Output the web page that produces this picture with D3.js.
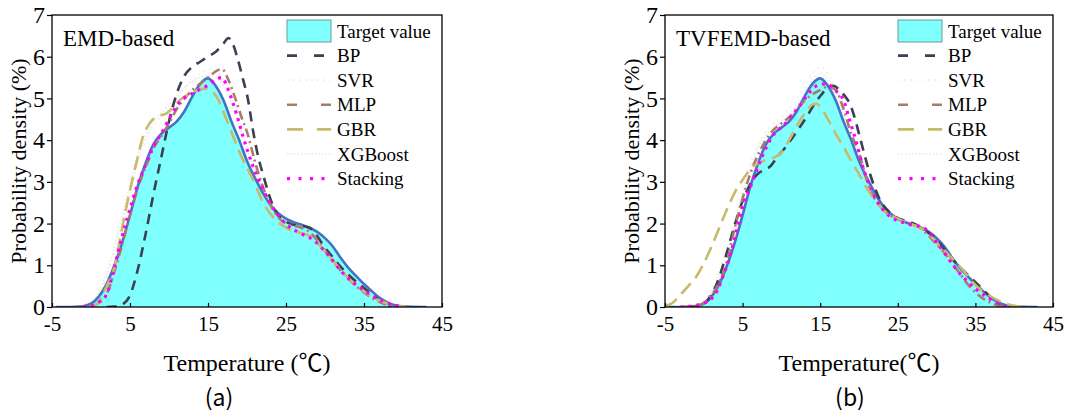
<!DOCTYPE html>
<html>
<head>
<meta charset="utf-8">
<script src="https://cdn.jsdelivr.net/npm/d3@7"></script>
<style>
  body { margin: 0; background: #fff; }
</style>
</head>
<body>
<svg id="chart" width="1067" height="416"></svg>
<script>
// ---- labels and ticks ----
const panelNames = ["EMD-based", "TVFEMD-based"];
const panelTags = ["(a)", "(b)"];
const xTitles = ["Temperature (℃)", "Temperature(℃)"];
const yTitle = "Probability density (%)";
const xTicks = [-5, 5, 15, 25, 35, 45];
const yTicks = [0, 1, 2, 3, 4, 5, 6, 7];
const seriesNames = ["Target value", "BP", "SVR", "MLP", "GBR", "XGBoost", "Stacking"];

// ---- kernel density of the measured temperature, [°C, %] ----
const target = [[-4.5,0],[-3,0],[-2,0.005],[-1,0.02],[0,0.08],[1,0.25],[2,0.55],[3,1.0],[4,1.55],[5,2.2],[6,2.9],[7,3.45],[8,3.9],[9,4.15],[10,4.3],[11,4.45],[12,4.7],[13,5.05],[14,5.35],[15,5.48],[16,5.3],[17,4.95],[18,4.45],[19,4.0],[20,3.5],[21,3.1],[22,2.75],[23,2.45],[24,2.25],[25,2.12],[26,2.03],[27,1.97],[28,1.9],[29,1.8],[30,1.65],[31,1.45],[32,1.18],[33,0.94],[34,0.74],[35,0.55],[36,0.38],[37,0.22],[38,0.11],[39,0.04],[40,0.015],[41,0.005],[43,0]];

// ---- EMD-based forecasts ----
const emdBP = [[2,0],[3,0.01],[4,0.06],[5,0.28],[6,0.9],[7,1.75],[8,2.7],[9,3.58],[10,4.45],[11,5.12],[12,5.55],[13,5.76],[14,5.88],[15,6.0],[16,6.12],[17,6.32],[17.6,6.45],[18.2,6.3],[18.8,5.95],[19.5,5.45],[20.1,5.0],[20.8,4.2],[21.5,3.55],[22.1,3.15],[22.8,2.7],[23.8,2.25],[25.5,2.0],[28,1.9],[30.2,1.37],[32.8,0.81],[35.3,0.41],[37.5,0.09],[38.3,0]];
const emdSVR = [[-3,0],[0,0.08],[1,0.3],[2,0.7],[3,1.3],[4,2.0],[5,2.75],[6,3.45],[7,4.0],[8,4.35],[9,4.55],[10,4.75],[11,5.0],[12,5.25],[13,5.45],[14,5.6],[15,5.7],[16,5.68],[17,5.45],[18,5.0],[19,4.4],[20,3.8],[21,3.25],[22,2.8],[23,2.45],[24,2.2],[25,2.05],[26,1.98],[27,1.92],[28,1.82],[29,1.65],[30,1.45],[31,1.22],[32,1.0],[33,0.78],[34,0.58],[35,0.4],[36,0.25],[37,0.14],[38,0.06],[39,0.02],[40,0]];
const emdMLP = [[-2,0],[0,0.02],[1,0.1],[2,0.3],[3,0.85],[4,1.5],[5,2.2],[6,2.85],[7,3.35],[8,3.8],[9,4.1],[10,4.4],[11,4.75],[12,5.0],[13,5.2],[14,5.35],[15,5.5],[16,5.65],[16.8,5.7],[17.6,5.45],[18.5,5.0],[19.3,4.55],[20,4.2],[21,3.5],[22,2.9],[23,2.45],[24,2.15],[25,2.0],[26,1.95],[27,1.9],[28,1.8],[29,1.6],[30,1.35],[31,1.1],[32,0.88],[33,0.68],[34,0.5],[35,0.35],[36,0.22],[37,0.12],[38,0.05],[39,0.02],[40,0]];
const emdGBR = [[0,0],[1,0.12],[1.6,0.33],[2,0.5],[3,0.95],[4,1.9],[5,2.8],[6,3.6],[6.6,4.05],[7.5,4.4],[8.4,4.56],[9.7,4.64],[11.4,4.96],[13.1,5.16],[14.8,5.24],[16.1,5.04],[17.4,4.48],[19.1,3.68],[20.8,3.04],[22.1,2.49],[24.2,2.0],[25.5,1.85],[28.1,1.69],[30.2,1.29],[32.8,0.73],[35.3,0.33],[37.9,0.09],[40.5,0]];
const emdXGB = [[-3,0],[0,0.1],[1,0.35],[2,0.8],[3,1.45],[4,2.2],[5,2.95],[6,3.6],[7,4.1],[8,4.45],[9,4.65],[10,4.85],[11,5.05],[12,5.25],[13,5.4],[14,5.5],[15,5.55],[16,5.5],[17,5.3],[18,4.9],[19,4.35],[20,3.8],[21,3.3],[22,2.85],[23,2.5],[24,2.25],[25,2.1],[26,2.0],[27,1.95],[28,1.85],[29,1.68],[30,1.48],[31,1.25],[32,1.02],[33,0.8],[34,0.6],[35,0.42],[36,0.27],[37,0.15],[38,0.07],[39,0.02],[40,0]];
const emdStacking = [[-1,0],[0,0.03],[1,0.12],[2,0.3],[3,0.95],[4,1.7],[5,2.35],[6,2.95],[7,3.4],[8,3.85],[9,4.15],[10,4.5],[11,4.82],[12,5.02],[13,5.12],[14,5.22],[15,5.32],[16,5.45],[16.8,5.5],[17.5,5.25],[18.7,4.6],[19.5,4.08],[20.8,3.36],[22.1,2.8],[23.8,2.25],[25.1,1.97],[26.8,1.77],[28.5,1.61],[30.2,1.29],[32.3,0.81],[34.9,0.41],[37.5,0.13],[40,0]];

// ---- TVFEMD-based forecasts ----
const tvfBP = [[-2,0],[-1,0.02],[0,0.08],[1,0.3],[1.7,0.57],[2.95,1.29],[3.8,1.85],[4.9,2.49],[6,2.95],[7,3.2],[8,3.3],[8.5,3.36],[9.5,3.6],[10.4,3.8],[11.4,4.05],[12.4,4.32],[13.4,4.6],[14.3,4.88],[15.2,5.1],[16.1,5.28],[16.7,5.3],[17.5,5.2],[18.2,5.05],[18.8,4.88],[19.5,4.5],[20.1,4.08],[21.4,3.2],[22.7,2.57],[24.4,2.2],[27.4,1.97],[30,1.61],[32.1,1.13],[34.7,0.65],[36.9,0.25],[38,0.05],[38.5,0]];
const tvfSVR = [[-3,0],[-1,0.05],[0,0.15],[1,0.4],[2,0.85],[3,1.45],[4,2.15],[5,2.85],[6,3.45],[7,3.9],[8,4.2],[9,4.4],[10,4.55],[11,4.75],[12,5.0],[13,5.3],[14,5.6],[15,5.75],[16,5.6],[17,5.2],[18,4.7],[19,4.15],[20,3.6],[21,3.15],[22,2.8],[23,2.5],[24,2.28],[25,2.15],[26,2.06],[27,2.0],[28,1.92],[29,1.8],[30,1.62],[31,1.4],[32,1.15],[33,0.92],[34,0.7],[35,0.5],[36,0.33],[37,0.19],[38,0.09],[39,0.03],[40,0]];
const tvfMLP = [[-3,0],[-1,0.03],[0,0.1],[1,0.28],[2,0.6],[3,1.1],[4,1.9],[5,2.6],[6,3.2],[7,3.65],[8,4.0],[9,4.25],[10,4.4],[11,4.55],[12,4.75],[13,4.95],[14,5.1],[15,5.2],[16,5.28],[17,5.2],[18,4.75],[19,4.15],[20,3.7],[21,3.05],[22,2.6],[23,2.35],[24,2.2],[25,2.1],[26,2.03],[27,1.97],[28,1.88],[29,1.7],[30,1.5],[31,1.3],[32,1.05],[33,0.8],[34,0.55],[35,0.35],[36,0.2],[37,0.1],[38,0.03],[39,0]];
const tvfGBR = [[-5,0.02],[-4,0.1],[-3,0.3],[-2,0.5],[-1,0.72],[0,1.05],[1,1.45],[2,1.9],[3,2.35],[4,2.75],[5,3.05],[6,3.3],[7,3.45],[8,3.52],[9,3.58],[10,3.7],[11,4.0],[12,4.35],[13,4.64],[14,4.85],[14.5,4.88],[15,4.8],[16,4.5],[17,4.15],[18,3.84],[19,3.5],[19.7,3.28],[21.4,2.73],[23.1,2.33],[25.3,2.09],[28.3,1.85],[30.9,1.37],[33,0.97],[35.2,0.49],[37.8,0.17],[40.7,0.01],[42,0]];
const tvfXGB = [[-3,0],[-1,0.04],[0,0.12],[1,0.35],[2,0.75],[3,1.3],[4,2.0],[5,2.7],[6,3.3],[7,3.8],[8,4.1],[9,4.3],[10,4.45],[11,4.62],[12,4.85],[13,5.15],[14,5.45],[15,5.6],[16,5.45],[17,5.1],[18,4.6],[19,4.1],[20,3.6],[21,3.15],[22,2.8],[23,2.5],[24,2.28],[25,2.15],[26,2.06],[27,2.0],[28,1.92],[29,1.8],[30,1.62],[31,1.4],[32,1.15],[33,0.92],[34,0.7],[35,0.5],[36,0.33],[37,0.19],[38,0.09],[39,0.03],[40,0]];
const tvfStacking = [[-3,0],[-1,0.04],[0,0.1],[0.6,0.13],[1,0.2],[2,0.5],[2.3,0.65],[3,1.0],[3.6,1.37],[4.9,2.33],[6.2,2.97],[7.5,3.6],[8.8,4.08],[10.5,4.4],[11.4,4.6],[12.6,4.88],[13.5,5.12],[14.75,5.32],[15.8,5.35],[16.9,5.2],[18,4.96],[18.8,4.48],[19.7,3.92],[20.5,3.36],[21.8,2.73],[23.5,2.25],[26.1,2.0],[28.3,1.9],[30.4,1.45],[32.6,0.89],[35.2,0.41],[37.8,0.1],[39,0]];

// ---- line styles per model ----
const styles = {
  "BP":       { color: "#3c4152", width: 2.6, dash: "10,7",    legendDash: "10,17" },
  "SVR":      { color: "#f1f1f1", width: 2.2, dash: "2,4",     legendDash: "2,4" },
  "MLP":      { color: "#a87c6a", width: 2.6, dash: "9,4,2,4", legendDash: "10,24,2,0" },
  "GBR":      { color: "#c8ba6c", width: 2.6, dash: "14,7",    legendDash: "16,14" },
  "XGBoost":  { color: "#ececec", width: 2.2, dash: "1.5,2",   legendDash: "1.5,2" },
  "Stacking": { color: "#ff00ff", width: 3.2, dash: "3,5",     legendDash: "3,8.5" }
};
const targetFill = "#80ffff";
const targetLine = "#4472c4";
const serif = "'Liberation Serif', 'Times New Roman', serif";

const panels = [
  { left: 52,  right: 442,  name: panelNames[0], tag: panelTags[0], xTitle: xTitles[0], tagX: 219,
    series: { BP: emdBP, SVR: emdSVR, MLP: emdMLP, GBR: emdGBR, XGBoost: emdXGB, Stacking: emdStacking } },
  { left: 665, right: 1053, name: panelNames[1], tag: panelTags[1], xTitle: xTitles[1], tagX: 850,
    series: { BP: tvfBP, SVR: tvfSVR, MLP: tvfMLP, GBR: tvfGBR, XGBoost: tvfXGB, Stacking: tvfStacking } }
];
const plotTop = 15, plotBottom = 307;

const svg = d3.select("#chart");

panels.forEach(p => {
  const x = d3.scaleLinear().domain([-5, 45]).range([p.left, p.right]);
  const y = d3.scaleLinear().domain([0, 7]).range([plotBottom, plotTop]);
  const g = svg.append("g");

  const line = d3.line().x(d => x(d[0])).y(d => y(d[1])).curve(d3.curveMonotoneX);
  const area = d3.area().x(d => x(d[0])).y0(y(0)).y1(d => y(d[1])).curve(d3.curveMonotoneX);

  const clipId = "clip-" + p.left;
  svg.append("clipPath").attr("id", clipId)
    .append("rect").attr("x", p.left).attr("y", plotTop)
    .attr("width", p.right - p.left).attr("height", plotBottom - plotTop);
  const plot = g.append("g").attr("clip-path", `url(#${clipId})`);

  // faint models first, below the filled target density
  ["SVR", "XGBoost"].forEach(k => {
    const s = styles[k];
    plot.append("path").datum(p.series[k]).attr("d", line)
      .attr("fill", "none").attr("stroke", s.color).attr("stroke-width", s.width)
      .attr("stroke-dasharray", s.dash);
  });

  plot.append("path").datum(target).attr("d", area).attr("fill", targetFill);
  plot.append("path").datum(target).attr("d", line)
    .attr("fill", "none").attr("stroke", targetLine).attr("stroke-width", 2.6);

  ["BP", "MLP", "GBR", "Stacking"].forEach(k => {
    const s = styles[k];
    plot.append("path").datum(p.series[k]).attr("d", line)
      .attr("fill", "none").attr("stroke", s.color).attr("stroke-width", s.width)
      .attr("stroke-dasharray", s.dash);
  });

  // axes: x ticks point inward, y ticks outward
  const xAxis = g.append("g").attr("transform", `translate(0,${plotBottom})`)
    .call(d3.axisBottom(x).tickValues(xTicks).tickSize(-4).tickPadding(9).tickFormat(d => String(d)));
  xAxis.select(".domain").remove();
  xAxis.selectAll("line").attr("stroke", "#000").attr("stroke-width", 1.2);
  xAxis.selectAll("text").style("font-family", serif).style("font-size", "21px").attr("fill", "#000");

  const yAxis = g.append("g").attr("transform", `translate(${p.left},0)`)
    .call(d3.axisLeft(y).tickValues(yTicks).tickSize(5).tickPadding(2).tickFormat(d => String(d)));
  yAxis.select(".domain").remove();
  yAxis.selectAll("line").attr("stroke", "#000").attr("stroke-width", 1.2);
  yAxis.selectAll("text").style("font-family", serif).style("font-size", "24px").attr("fill", "#000");

  // frame
  g.append("rect").attr("x", p.left).attr("y", plotTop)
    .attr("width", p.right - p.left).attr("height", plotBottom - plotTop)
    .attr("fill", "none").attr("stroke", "#000").attr("stroke-width", 1.3);

  // panel name
  g.append("text").attr("x", p.left + 11).attr("y", 46)
    .style("font-family", serif).style("font-size", "23px").text(p.name);

  // axis titles
  g.append("text").attr("x", (p.left + p.right) / 2).attr("y", 371)
    .attr("text-anchor", "middle")
    .style("font-family", "'Liberation Serif', 'Noto Sans CJK SC', serif").style("font-size", "24px")
    .text(p.xTitle);
  g.append("text")
    .attr("transform", `translate(${p.left - 26},${(plotTop + plotBottom) / 2}) rotate(-90)`)
    .attr("text-anchor", "middle")
    .style("font-family", serif).style("font-size", "22px").text(yTitle);

  // sub-figure tag
  g.append("text").attr("x", p.tagX).attr("y", 406).attr("text-anchor", "middle")
    .style("font-family", "'Noto Sans CJK SC', 'DejaVu Sans', sans-serif").style("font-size", "23px")
    .text(p.tag);

  // legend
  const lx = p.right - 155, ly = 31, step = 24.6;
  const leg = g.append("g");
  seriesNames.forEach((name, i) => {
    const cy = ly + i * step;
    if (name === "Target value") {
      leg.append("rect").attr("x", lx).attr("y", cy - 11).attr("width", 44).attr("height", 22)
        .attr("fill", targetFill).attr("stroke", "#6a9c9c").attr("stroke-width", 1);
    } else {
      const s = styles[name];
      leg.append("line").attr("x1", lx).attr("x2", lx + 44).attr("y1", cy).attr("y2", cy)
        .attr("stroke", s.color).attr("stroke-width", s.width).attr("stroke-dasharray", s.legendDash);
    }
    leg.append("text").attr("x", lx + 50).attr("y", cy + 6.5)
      .style("font-family", serif).style("font-size", "19px").text(name);
  });
});
</script>
</body>
</html>
